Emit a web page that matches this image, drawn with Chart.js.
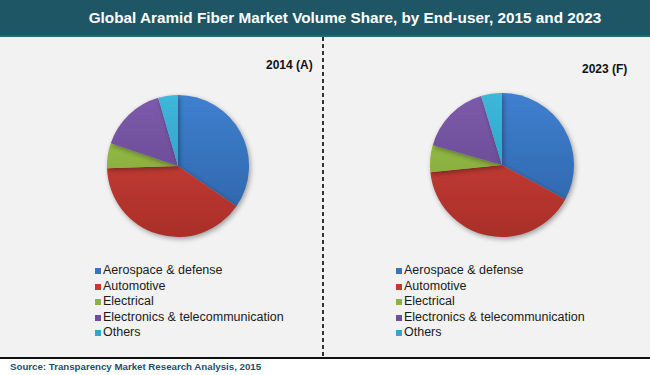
<!DOCTYPE html>
<html>
<head>
<meta charset="utf-8">
<script src="https://cdn.jsdelivr.net/npm/chart.js@4/dist/chart.umd.min.js"></script>
<style>
  html, body { margin:0; padding:0; background:#ffffff; }
  body { width:650px; height:375px; position:relative; overflow:hidden; font-family:"Liberation Sans", Arial, sans-serif; }
  #titlebar { position:absolute; left:0; top:0; width:650px; height:35px; background:#1f5666; border-bottom:2px solid #2b6474; }
  #title { position:absolute; left:0; width:650px; top:9px; text-align:center; padding-left:40px; box-sizing:border-box; color:#ffffff; font-weight:bold; font-size:15.3px; }
  #panel { position:absolute; left:0; top:37px; width:650px; height:320px; background:#f2f2f2; }
  #divider { position:absolute; left:322px; top:37px; width:2px; height:320px; background:repeating-linear-gradient(to bottom, #333 0 4px, transparent 4px 7px); }
  #baseline { position:absolute; left:0; top:357px; width:650px; height:2px; background:#111; }
  #source { position:absolute; left:10px; top:361px; font-size:9.7px; font-weight:bold; color:#1f4f6e; }
  .year { position:absolute; font-size:12px; font-weight:bold; color:#111; }
  .pie { position:absolute; width:160px; height:160px; }
  .legend { position:absolute; font-size:12.5px; color:#1a1a1a; }
  .legend div { position:relative; height:15.6px; line-height:15.6px; padding-left:8px; white-space:nowrap; }
  .legend span { position:absolute; left:0; top:5px; width:6px; height:6px; }
</style>
</head>
<body>
<div id="titlebar"></div>
<div id="title"></div>
<div id="panel"></div>
<div id="divider"></div>
<div id="baseline"></div>
<div id="source"></div>
<div class="year" id="y1" style="left:266px; top:58px;"></div>
<div class="year" id="y2" style="left:582px; top:62px;"></div>
<div class="pie" style="left:98px; top:86px;"><canvas id="c1" width="160" height="160"></canvas></div>
<div class="pie" style="left:422px; top:85px;"><canvas id="c2" width="160" height="160"></canvas></div>
<div class="legend" id="l1" style="left:95px; top:263px;"></div>
<div class="legend" id="l2" style="left:396px; top:263px;"></div>
<script>
const titleText = "Global Aramid Fiber Market Volume Share, by End-user, 2015 and 2023";
const sourceText = "Source: Transparency Market Research Analysis, 2015";
const categories = ["Aerospace & defense", "Automotive", "Electrical", "Electronics & telecommunication", "Others"];
const yearLabels = ["2014 (A)", "2023 (F)"];
const share2014 = [34.6, 39.9, 5.7, 15.3, 4.5];
const share2023 = [32.9, 40.5, 6.0, 15.9, 4.7];
const colorsTop = ["#3f80cf", "#d2443b", "#9cc44a", "#7d5bab", "#3eb7da"];
const colorsBottom = ["#2c62a6", "#a92f28", "#7c9f37", "#5e4187", "#2995bb"];
const legendColors = ["#3a74c0", "#c23a32", "#8cb240", "#6f4f9c", "#33a6cc"];

document.getElementById('title').textContent = titleText;
document.getElementById('source').textContent = sourceText;
document.getElementById('y1').textContent = yearLabels[0];
document.getElementById('y2').textContent = yearLabels[1];

function buildLegend(id) {
  const el = document.getElementById(id);
  categories.forEach((c, i) => {
    const row = document.createElement('div');
    const sw = document.createElement('span');
    sw.style.background = legendColors[i];
    row.appendChild(sw);
    row.appendChild(document.createTextNode(c));
    el.appendChild(row);
  });
}
buildLegend('l1');
buildLegend('l2');

const shadowPlugin = {
  id: 'pieShadow',
  beforeDatasetsDraw(chart) {
    const ctx = chart.ctx;
    ctx.save();
    ctx.shadowColor = 'rgba(0,0,0,0.35)';
    ctx.shadowBlur = 5;
    ctx.shadowOffsetX = 1.5;
    ctx.shadowOffsetY = 2;
  },
  afterDatasetsDraw(chart) {
    chart.ctx.restore();
  }
};

function grad(context) {
  const chart = context.chart;
  const area = chart.chartArea;
  const i = context.dataIndex;
  if (!area) return colorsTop[i];
  const g = chart.ctx.createLinearGradient(0, area.top, 0, area.bottom);
  g.addColorStop(0, colorsTop[i]);
  g.addColorStop(1, colorsBottom[i]);
  return g;
}

function makePie(id, values, pad) {
  new Chart(document.getElementById(id), {
    type: 'pie',
    data: {
      labels: categories,
      datasets: [{ data: values, backgroundColor: grad, borderWidth: 0 }]
    },
    options: {
      responsive: false,
      animation: false,
      layout: { padding: pad },
      plugins: { legend: { display: false }, tooltip: { enabled: false } }
    },
    plugins: [shadowPlugin]
  });
}
makePie('c1', share2014, 9);
makePie('c2', share2023, 8);
</script>
</body>
</html>
